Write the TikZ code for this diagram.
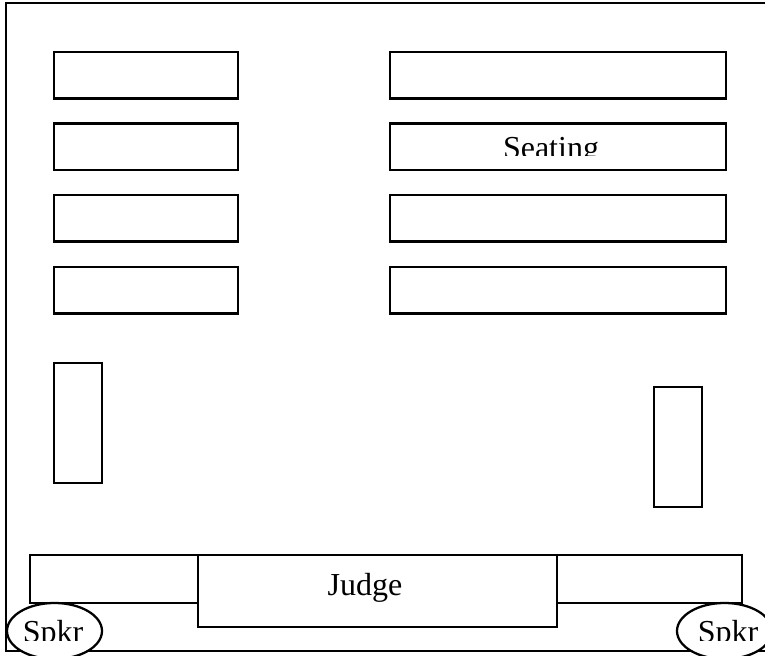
\documentclass[tikz,border=0pt]{standalone}
\usepackage{fontspec}
\setmainfont{Liberation Serif}
\begin{document}
\begin{tikzpicture}[x=0.75pt,y=-0.75pt,line width=1.7pt,
	lbl/.style={inner sep=0pt,anchor=base,font=\fontsize{24}{28}\selectfont}]
	\useasboundingbox (0,0) rectangle (765,656);
	\clip (0,0) rectangle (765,656);

	% room outline, open at the right
	\draw (6,3) rectangle (800,651);

	\foreach \y in {52,123.5,195,267} {
		% seating rows
		\draw (54,\y) rectangle ++(184,46.5);
		\draw (390,\y) rectangle ++(336,46.5);
	}
	\begin{scope}
		\clip (390,123) rectangle (726,156);
		\node[lbl] (seating) at (551,159) {Seating};
	\end{scope}

	% side tables
	\draw (54,363) rectangle (102,483);
	\draw (654,387) rectangle (702,507);

	% bench and judge
	\draw (30,555) rectangle (742,603);
	\draw [fill=white] (198,555) rectangle (557,627);
	\node[lbl] (judge) at (365,595) {Judge};

	% speakers
	\draw [fill=white] (54.5,631) ellipse [x radius=47.5, y radius=28];
	\draw [fill=white] (724.5,631) ellipse [x radius=47.5, y radius=28];
	\begin{scope}
		\clip (0,600) rectangle (765,640);
		\node[lbl] (spkrL) at (53,642) {Spkr};
		\node[lbl] (spkrR) at (728,642) {Spkr};
	\end{scope}
\end{tikzpicture}
\end{document}
